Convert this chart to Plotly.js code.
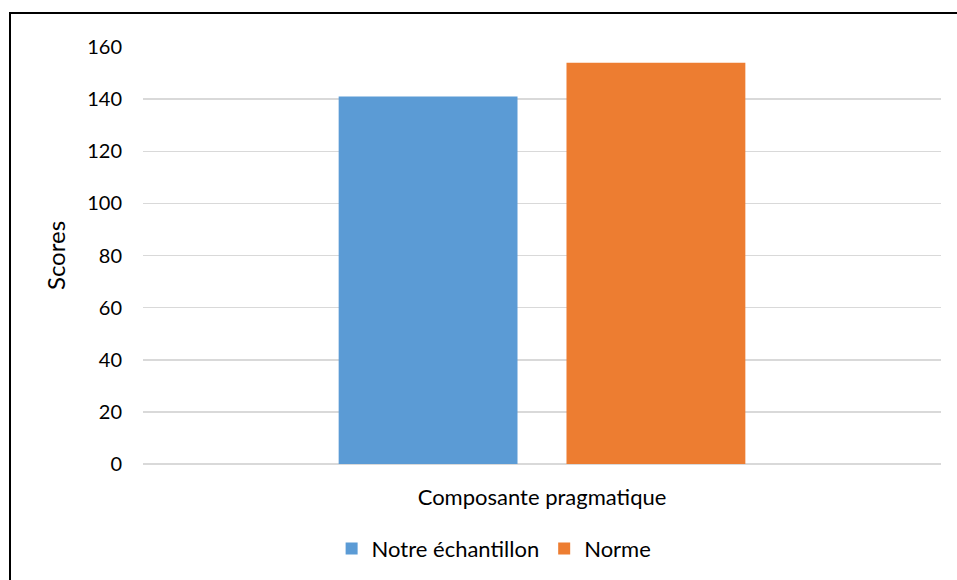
<!DOCTYPE html>
<html>
<head>
<meta charset="utf-8">
<script src="https://cdn.plot.ly/plotly-3.0.1.min.js"></script>
<style>
  html, body { margin: 0; padding: 0; background: #fff; overflow: hidden; }
  #wrap { position: relative; width: 957px; height: 580px; overflow: hidden; }
  #chart { width: 957px; height: 580px; }
  #frame { position: absolute; left: 9px; top: 12px; width: 960px; height: 580px;
           border-left: 2px solid #000; border-top: 2px solid #000; pointer-events: none; }
</style>
</head>
<body>
<div id="wrap">
  <div id="chart"></div>
  <div id="frame"></div>
</div>
<script>
const categories = ["Composante pragmatique"];
const seriesNames = ["Notre échantillon", "Norme"];
const sampleValues = [141];
const normValues = [154];
const yTicks = [0, 20, 40, 60, 80, 100, 120, 140, 160];

const FONT = "Lato, 'Open Sans', sans-serif";

const traces = [
  { type: "bar", name: seriesNames[0], x: categories, y: sampleValues,
    marker: { color: "#5B9BD5" }, hoverinfo: "y" },
  { type: "bar", name: seriesNames[1], x: categories, y: normValues,
    marker: { color: "#ED7D31" }, hoverinfo: "y" }
];

const layout = {
  width: 957, height: 580,
  margin: { l: 143, r: 16, t: 47, b: 115 },
  paper_bgcolor: "#fff", plot_bgcolor: "#fff",
  font: { family: FONT, size: 21, color: "#000" },
  barmode: "group", bargap: 0.429, bargroupgap: 0.215,
  showlegend: true,
  legend: { orientation: "h", x: 0.44, xanchor: "center", y: -0.15, yanchor: "top",
            font: { family: FONT, size: 22, color: "#000" }, itemwidth: 30 },
  xaxis: { type: "category", showgrid: false, zeroline: false, showline: false,
           ticks: "", ticklabelstandoff: 18, tickfont: { family: FONT, size: 22 } },
  yaxis: { range: [0, 160], tickvals: yTicks, ticktext: yTicks.map(String),
           showgrid: true, gridcolor: "#D9D9D9", gridwidth: 1.5,
           zeroline: true, zerolinecolor: "#D9D9D9", zerolinewidth: 1.5,
           showline: false, ticks: "", ticklen: 0, ticklabelstandoff: 20,
           tickfont: { family: FONT, size: 20 },
           title: { text: "Scores", font: { family: FONT, size: 24 }, standoff: 14 } }
};

Plotly.newPlot("chart", traces, layout, { displayModeBar: false, staticPlot: true });
</script>
</body>
</html>
